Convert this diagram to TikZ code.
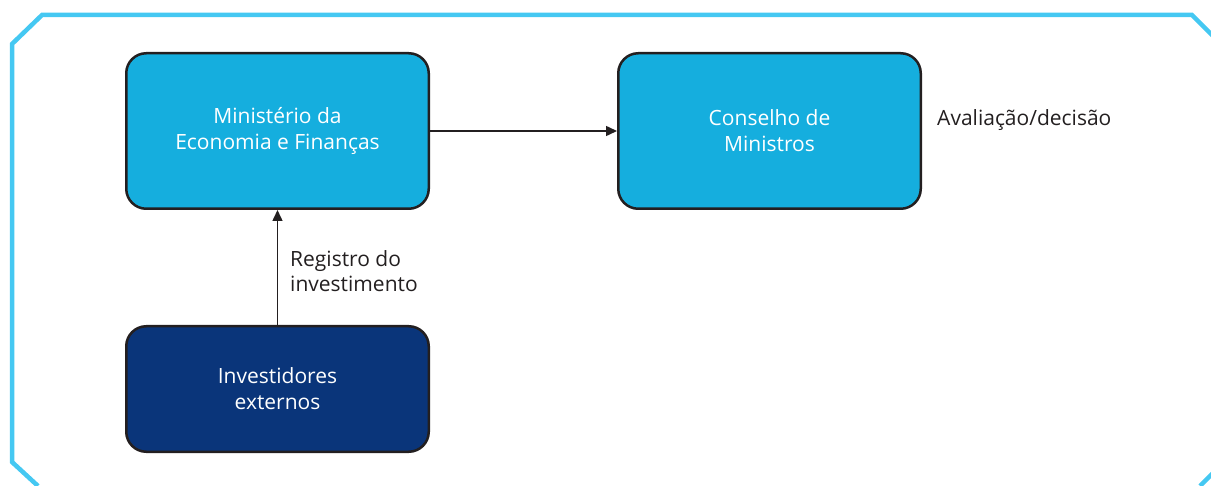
\documentclass[tikz,border=0pt]{standalone}
\usepackage{fontspec}
\setmainfont{Open Sans}
\usetikzlibrary{arrows.meta}
\definecolor{framecyan}{HTML}{45C8F2}
\definecolor{boxcyan}{HTML}{15AEDE}
\definecolor{boxnavy}{HTML}{0A357A}
\definecolor{inkgrey}{HTML}{231F20}
\tikzset{
	orgbox/.style={draw=inkgrey, line width=2.5pt, rounded corners=20pt, align=center, text=white,
		minimum width=302.5pt, font=\fontsize{21}{26}\selectfont},
	flowarrow/.style={draw=inkgrey, line width=1.5pt, -{Triangle[length=11pt,width=10pt]}},
	sidelabel/.style={text=inkgrey, align=left, inner sep=0pt, font=\fontsize{21}{25}\selectfont}
}

\begin{document}
\begin{tikzpicture}[x=1pt, y=-1pt]
				\useasboundingbox (0, 0) rectangle (1211, 486);
				\clip (0, 0) rectangle (1211, 486);
				
				\draw[framecyan, line width=4.5pt] (1250, 436) -- (1200, 486);
				\draw[framecyan, line width=4.5pt] (1250, 73) -- (1192, 15) -- (42, 15) -- (12, 44) -- (12, 462) -- (38, 486);
				
				\node[orgbox, fill=boxcyan, minimum height=155.5pt] (mef) at (277.5, 131) {Ministério da\\Economia e Finanças};
				\node[orgbox, fill=boxcyan, minimum height=155.5pt] (cm) at (769.5, 131) {Conselho de\\Ministros};
				\node[orgbox, fill=boxnavy, minimum height=125.5pt] (inv) at (277.5, 389) {Investidores\\externos};
				
				\draw[flowarrow] (mef.east) -- (cm.west);
				\draw[flowarrow] (inv.north) -- (mef.south);
				
				\node[sidelabel, anchor=west] (aval) at (937, 120) {Avaliação/decisão};
				\node[sidelabel, anchor=west] (reg) at (290, 271) {Registro do\\investimento};
			\end{tikzpicture}
\end{document}
